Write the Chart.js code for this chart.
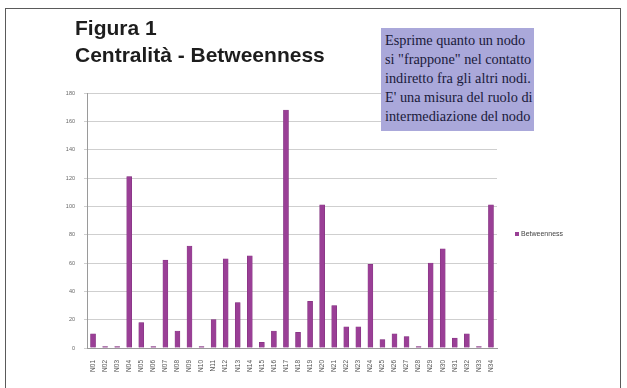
<!DOCTYPE html>
<html>
<head>
<meta charset="utf-8">
<script src="https://cdn.jsdelivr.net/npm/chart.js@4/dist/chart.umd.min.js"></script>
<style>
  html, body { margin: 0; padding: 0; background: #ffffff; }
  #page { position: relative; width: 627px; height: 388px; overflow: hidden; background: #fff; }
  #frame { position: absolute; left: 5px; top: 8px; width: 616px; height: 400px; border: 1.5px solid #5a5a5a; box-sizing: border-box; }
  #title { position: absolute; left: 75px; top: 14px; font: bold 21px "Liberation Sans", Arial, sans-serif; color: #1d1d1d; line-height: 27px; }
  #note { position: absolute; left: 381px; top: 28px; width: 153px; height: 103px; background: #aaa8da; box-sizing: border-box; padding: 3px 0 0 4px;
          font: 14.3px "Liberation Serif", "Times New Roman", serif; color: #1a1a3a; line-height: 19px; white-space: nowrap; overflow: hidden; }
  #chart { position: absolute; left: 0; top: 0; }
  #legend { position: absolute; left: 515px; top: 230px; font: 7px "Liberation Sans", Arial, sans-serif; color: #444; }
  #legend span.box { display: inline-block; width: 4px; height: 4px; background: #993f95; margin-right: 2px; vertical-align: middle; }
</style>
</head>
<body>
<div id="page">
  <div id="frame"></div>
  <canvas id="chart" width="627" height="388"></canvas>
  <div id="title">Figura 1<br>Centralità - Betweenness</div>
  <div id="note">Esprime quanto un nodo<br>si "frappone" nel contatto<br>indiretto fra gli altri nodi.<br>E' una misura del ruolo di<br>intermediazione del nodo</div>
  <div id="legend"><span class="box"></span>Betweenness</div>
</div>
<script>
// Node codes along the category axis
const nodes = ["N01","N02","N03","N04","N05","N06","N07","N08","N09","N10",
               "N11","N12","N13","N14","N15","N16","N17","N18","N19","N20",
               "N21","N22","N23","N24","N25","N26","N27","N28","N29","N30",
               "N31","N32","N33","N34"];
// Betweenness centrality per node
const betweenness = [10,1,1,121,18,1,62,12,72,1,
                     20,63,32,65,4,12,168,11,33,101,
                     30,15,15,59,6,10,8,1,60,70,
                     7,10,1,101];
// Value axis ticks
const yTicks = [0,20,40,60,80,100,120,140,160,180];

const plotLeft = 87, plotRight = 497, plotTop = 93, plotBottom = 348;

new Chart(document.getElementById('chart'), {
  type: 'bar',
  data: {
    labels: nodes,
    datasets: [{
      label: 'Betweenness',
      data: betweenness,
      backgroundColor: '#9a3f96',
      borderColor: '#7d2f7a',
      borderWidth: 0.5,
      barThickness: 5
    }]
  },
  options: {
    responsive: false,
    animation: false,
    layout: { padding: { top: plotTop, left: 40, right: 627 - plotRight, bottom: 0 } },
    plugins: { legend: { display: false }, tooltip: { enabled: false } },
    scales: {
      x: {
        grid: { display: false },
        border: { color: '#9a9a9a' },
        ticks: { minRotation: 90, maxRotation: 90, autoSkip: false, font: { size: 6.5, family: 'Liberation Sans' }, color: '#555', padding: 4 },
        afterFit: (s) => { s.height = 388 - plotBottom; }
      },
      y: {
        min: 0, max: 180,
        afterBuildTicks: (s) => { s.ticks = yTicks.map(v => ({ value: v })); },
        grid: { color: '#cfcfcf', lineWidth: 1, drawTicks: true, tickLength: 3 },
        border: { color: '#9a9a9a' },
        ticks: { font: { size: 5.5, family: 'Liberation Sans' }, color: '#666', padding: 9 },
        afterFit: (s) => { s.width = plotLeft - 40; }
      }
    }
  }
});
</script>
</body>
</html>
